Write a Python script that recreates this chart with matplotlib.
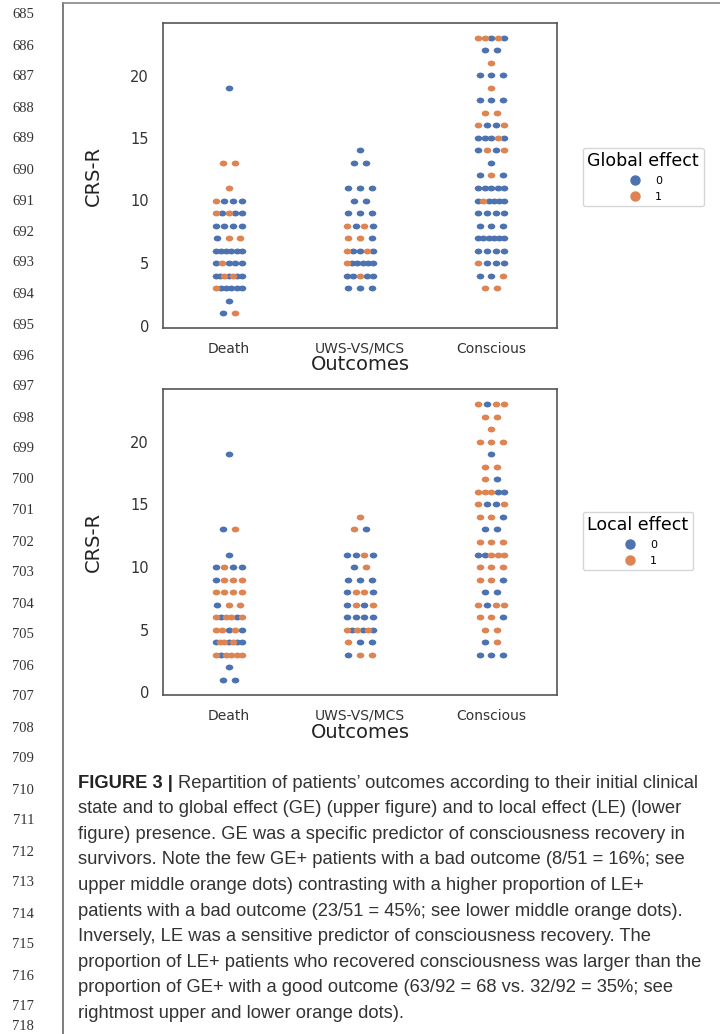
import matplotlib
matplotlib.use("Agg")
import matplotlib.pyplot as plt
import numpy as np
from matplotlib.lines import Line2D
from matplotlib.path import Path

# categories on the x axis
outcomes = ["Death", "UWS-VS/MCS", "Conscious"]

# each row: CRS-R score and the effect flags (0/1) seen left to right at that score
ge_death_crs = [19, 13, 11, 10, 9, 8, 7, 6, 5, 4, 3, 2, 1]
ge_death_eff = ["0", "11", "1", "1000", "10100", "0000", "011", "000000",
                "01000", "0010100", "100000", "0", "01"]
ge_uws_crs = [14, 13, 11, 10, 9, 8, 7, 6, 5, 4, 3]
ge_uws_eff = ["0", "00", "000", "00", "000", "1010", "110", "10010",
              "100000", "00100", "000"]
ge_cons_crs = [23, 22, 21, 20, 19, 18, 17, 16, 15, 14, 13, 12, 11, 10, 9, 8,
               7, 6, 5, 4, 3]
ge_cons_eff = ["11010", "00", "1", "000", "1", "000", "11", "1001", "00010",
               "0101", "0", "010", "00000", "010000", "0000", "000", "000000",
               "0000", "1000", "001", "11"]

le_death_crs = [19, 13, 11, 10, 9, 8, 7, 6, 5, 4, 3, 2, 1]
le_death_eff = ["0", "01", "0", "0100", "0111", "1111", "011", "101101",
                "11010", "0110100", "101111", "0", "00"]
le_uws_crs = [14, 13, 11, 10, 9, 8, 7, 6, 5, 4, 3]
le_uws_eff = ["1", "10", "0010", "01", "000", "0110", "0101", "0000",
              "101010", "100", "011"]
le_cons_crs = [23, 22, 21, 20, 19, 18, 17, 16, 15, 14, 13, 12, 11, 10, 9, 8,
               7, 6, 5, 4, 3]
le_cons_eff = ["1011", "11", "1", "111", "0", "11", "10", "11100", "1001",
               "110", "00", "111", "00111", "111", "110", "00", "1011", "110",
               "11", "01", "000"]

y_ticks = [0, 5, 10, 15, 20]
line_numbers = list(range(685, 719))

caption_lines = [
    "state and to global effect (GE) (upper figure) and to local effect (LE) (lower",
    "figure) presence. GE was a specific predictor of consciousness recovery in",
    "survivors. Note the few GE+ patients with a bad outcome (8/51 = 16%; see",
    "upper middle orange dots) contrasting with a higher proportion of LE+",
    "patients with a bad outcome (23/51 = 45%; see lower middle orange dots).",
    "Inversely, LE was a sensitive predictor of consciousness recovery. The",
    "proportion of LE+ patients who recovered consciousness was larger than the",
    "proportion of GE+ with a good outcome (63/92 = 68 vs. 32/92 = 35%; see",
    "rightmost upper and lower orange dots).",
]

colors = {"0": "#4C72B0", "1": "#DD8452"}

# slightly wide dot, like the stretched scan
circ = Path.unit_circle()
oval = Path(circ.vertices * [1.3, 1.0], circ.codes)

W, H = 720, 1034
fig = plt.figure(figsize=(W / 100, H / 100), dpi=100)


def px(x, y):
    return x / W, 1 - y / H


def strip(ax, groups):
    pts = {"0": ([], []), "1": ([], [])}
    for i, (crs, eff) in enumerate(groups):
        for v, s in zip(crs, eff):
            n = len(s)
            w = min(0.1, 0.045 * (n - 1))
            offs = np.linspace(-w, w, n) if n > 1 else [0.0]
            for o, h in zip(offs, s):
                pts[h][0].append(i + o)
                pts[h][1].append(v)
    for h in ["0", "1"]:
        ax.scatter(pts[h][0], pts[h][1], s=30, marker=oval, color=colors[h],
                   linewidths=0, zorder=3)


def style(ax, legend_title, leg_y):
    ax.set_xlim(-0.5, 2.5)
    ax.set_ylim(-0.2, 24.2)
    ax.set_xticks(range(3))
    ax.set_xticklabels(outcomes, fontsize=10, color="#333333")
    ax.set_yticks(y_ticks)
    ax.set_yticklabels([str(t) for t in y_ticks], fontsize=10.5, color="#333333")
    ax.tick_params(length=0, pad=10)
    for sp in ax.spines.values():
        sp.set_color("#555555")
        sp.set_linewidth(1.2)
    ax.set_ylabel("CRS-R", fontsize=14, color="#222222")
    ax.yaxis.set_label_coords(-0.152, 0.5)
    ax.set_xlabel("Outcomes", fontsize=14, color="#222222")
    ax.xaxis.set_label_coords(0.5, -0.09)
    handles = [Line2D([], [], marker="o", ls="", color=colors[k], markersize=6.5)
               for k in ["0", "1"]]
    fig.legend(handles, ["0", "1"], title=legend_title, loc="upper left",
               bbox_to_anchor=px(583, leg_y), borderaxespad=0, fontsize=8,
               title_fontsize=12.5, frameon=True, edgecolor="#cccccc",
               handletextpad=0.8, labelspacing=0.5, borderpad=0.4)


ax1 = fig.add_axes([163 / W, 1 - 328 / H, 394 / W, 305 / H])
strip(ax1, [(ge_death_crs, ge_death_eff), (ge_uws_crs, ge_uws_eff),
            (ge_cons_crs, ge_cons_eff)])
style(ax1, "Global effect", 148)

ax2 = fig.add_axes([163 / W, 1 - 695 / H, 394 / W, 306 / H])
strip(ax2, [(le_death_crs, le_death_eff), (le_uws_crs, le_uws_eff),
            (le_cons_crs, le_cons_eff)])
style(ax2, "Local effect", 512)

# page margin and frame lines
fig.add_artist(Line2D([63 / W, 63 / W], [0, 1 - 3 / H], color="#666666", lw=1.2))
fig.add_artist(Line2D([63 / W, 1], [1 - 3 / H, 1 - 3 / H], color="#888888", lw=1.2))

for k, n in enumerate(line_numbers):
    y = min(15 + 31 * k, 1027)
    fig.text(*px(34, y), str(n), ha="right", va="center",
             fontsize=10.5, family="Liberation Serif", color="#333333")

y0 = 783
fs = 13.2
t = fig.text(*px(78, y0), "FIGURE 3 | ", ha="left", va="center", fontsize=fs,
             family="Liberation Sans", weight="bold", color="#222222")
fig.canvas.draw()
bb = t.get_window_extent()
fig.text(bb.x1 / W, 1 - y0 / H, "Repartition of patients\u2019 outcomes according to their initial clinical",
         ha="left", va="center", fontsize=fs, family="Liberation Sans", color="#333333")
for k, line in enumerate(caption_lines):
    fig.text(*px(78, y0 + 25.6 * (k + 1)), line, ha="left", va="center",
             fontsize=fs, family="Liberation Sans", color="#333333")

fig.savefig("out.png", dpi=100, facecolor="white")
